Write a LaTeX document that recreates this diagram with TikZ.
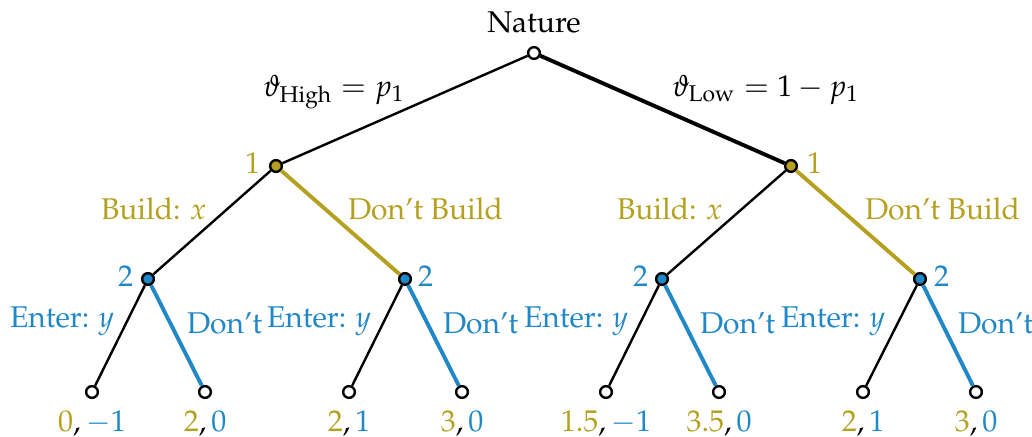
\documentclass[tikz,border=0pt]{standalone}
\usepackage[T1]{fontenc}
\usepackage{mathpazo}
\definecolor{pgold}{RGB}{181,160,32}
\definecolor{pblue}{RGB}{33,136,199}
\tikzset{
  dec/.style={circle,draw=black,line width=0.8pt,minimum size=3.9pt,inner sep=0pt},
  natnode/.style={dec,fill=white},
  p1node/.style={dec,fill=pgold},
  p2node/.style={dec,fill=pblue},
  leafnode/.style={dec,fill=white},
  edge/.style={line width=0.8pt,draw=black},
  boldedge/.style={line width=1.3pt,draw=black},
  goldedge/.style={line width=1.3pt,draw=pgold},
  blueedge/.style={line width=1.3pt,draw=pblue},
  lbl/.style={inner sep=0pt,outer sep=0pt},
  goldlbl/.style={lbl,text=pgold},
  bluelbl/.style={lbl,text=pblue},
}
\begin{document}
\begin{tikzpicture}[x=0.33333pt,y=-0.33333pt]
\useasboundingbox (0,0) rectangle (1032,437);
% nodes
\node[natnode] (r) at (534,53) {};
\node[p1node] (a) at (276,166) {};
\node[p1node] (b) at (791,166) {};
\node[p2node] (a1) at (148,279) {};
\node[p2node] (a2) at (405,279) {};
\node[p2node] (b1) at (662,279) {};
\node[p2node] (b2) at (920,279) {};
\node[leafnode] (l1) at (92,392) {};
\node[leafnode] (l2) at (205,392) {};
\node[leafnode] (l3) at (349,392) {};
\node[leafnode] (l4) at (462,392) {};
\node[leafnode] (l5) at (606,392) {};
\node[leafnode] (l6) at (719,392) {};
\node[leafnode] (l7) at (863,392) {};
\node[leafnode] (l8) at (976,392) {};
% edges
\draw[edge] (r) -- (a);
\draw[boldedge] (r) -- (b);
\draw[edge] (a) -- (a1);
\draw[goldedge] (a) -- (a2);
\draw[edge] (b) -- (b1);
\draw[goldedge] (b) -- (b2);
\draw[edge] (a1) -- (l1);
\draw[blueedge] (a1) -- (l2);
\draw[edge] (a2) -- (l3);
\draw[blueedge] (a2) -- (l4);
\draw[edge] (b1) -- (l5);
\draw[blueedge] (b1) -- (l6);
\draw[edge] (b2) -- (l7);
\draw[blueedge] (b2) -- (l8);
% labels
\node[lbl,anchor=base] (tn) at (534,32) {Nature};
\node[lbl,anchor=base west] (th) at (263,96) {$\vartheta_{\mathrm{High}} = p_1$};
\node[lbl,anchor=base west] (tl) at (672,96) {$\vartheta_{\mathrm{Low}} = 1 - p_1$};
\node[goldlbl,anchor=base east] (pa) at (260,173) {1};
\node[goldlbl,anchor=base west] (pb) at (807,173) {1};
\node[goldlbl,anchor=base west] (ba) at (101,219) {Build: $x$};
\node[goldlbl,anchor=base west] (da) at (348,219) {Don't Build};
\node[goldlbl,anchor=base west] (bb) at (617,219) {Build: $x$};
\node[goldlbl,anchor=base west] (db) at (865,219) {Don't Build};
\node[bluelbl,anchor=base east] (pa1) at (133,286) {2};
\node[bluelbl,anchor=base west] (pa2) at (418,286) {2};
\node[bluelbl,anchor=base east] (pb1) at (648,286) {2};
\node[bluelbl,anchor=base west] (pb2) at (934,286) {2};
\node[bluelbl,anchor=base west] (e1) at (10,327) {Enter: $y$};
\node[bluelbl,anchor=base west] (e2) at (267,327) {Enter: $y$};
\node[bluelbl,anchor=base west] (e3) at (524,327) {Enter: $y$};
\node[bluelbl,anchor=base west] (e4) at (781,327) {Enter: $y$};
\node[bluelbl,anchor=base west] (n1) at (187,333) {Don't};
\node[bluelbl,anchor=base west] (n2) at (443,333) {Don't};
\node[bluelbl,anchor=base west] (n3) at (700,333) {Don't};
\node[bluelbl,anchor=base west] (n4) at (958,333) {Don't};
% payoffs
\node[lbl,anchor=base] (v1) at (92,431) {$\textcolor{pgold}{0}, \textcolor{pblue}{-1}$};
\node[lbl,anchor=base] (v2) at (205,431) {$\textcolor{pgold}{2}, \textcolor{pblue}{0}$};
\node[lbl,anchor=base] (v3) at (349,431) {$\textcolor{pgold}{2}, \textcolor{pblue}{1}$};
\node[lbl,anchor=base] (v4) at (462,431) {$\textcolor{pgold}{3}, \textcolor{pblue}{0}$};
\node[lbl,anchor=base] (v5) at (606,431) {$\textcolor{pgold}{1.5}, \textcolor{pblue}{-1}$};
\node[lbl,anchor=base] (v6) at (719,431) {$\textcolor{pgold}{3.5}, \textcolor{pblue}{0}$};
\node[lbl,anchor=base] (v7) at (863,431) {$\textcolor{pgold}{2}, \textcolor{pblue}{1}$};
\node[lbl,anchor=base] (v8) at (976,431) {$\textcolor{pgold}{3}, \textcolor{pblue}{0}$};
\end{tikzpicture}
\end{document}
